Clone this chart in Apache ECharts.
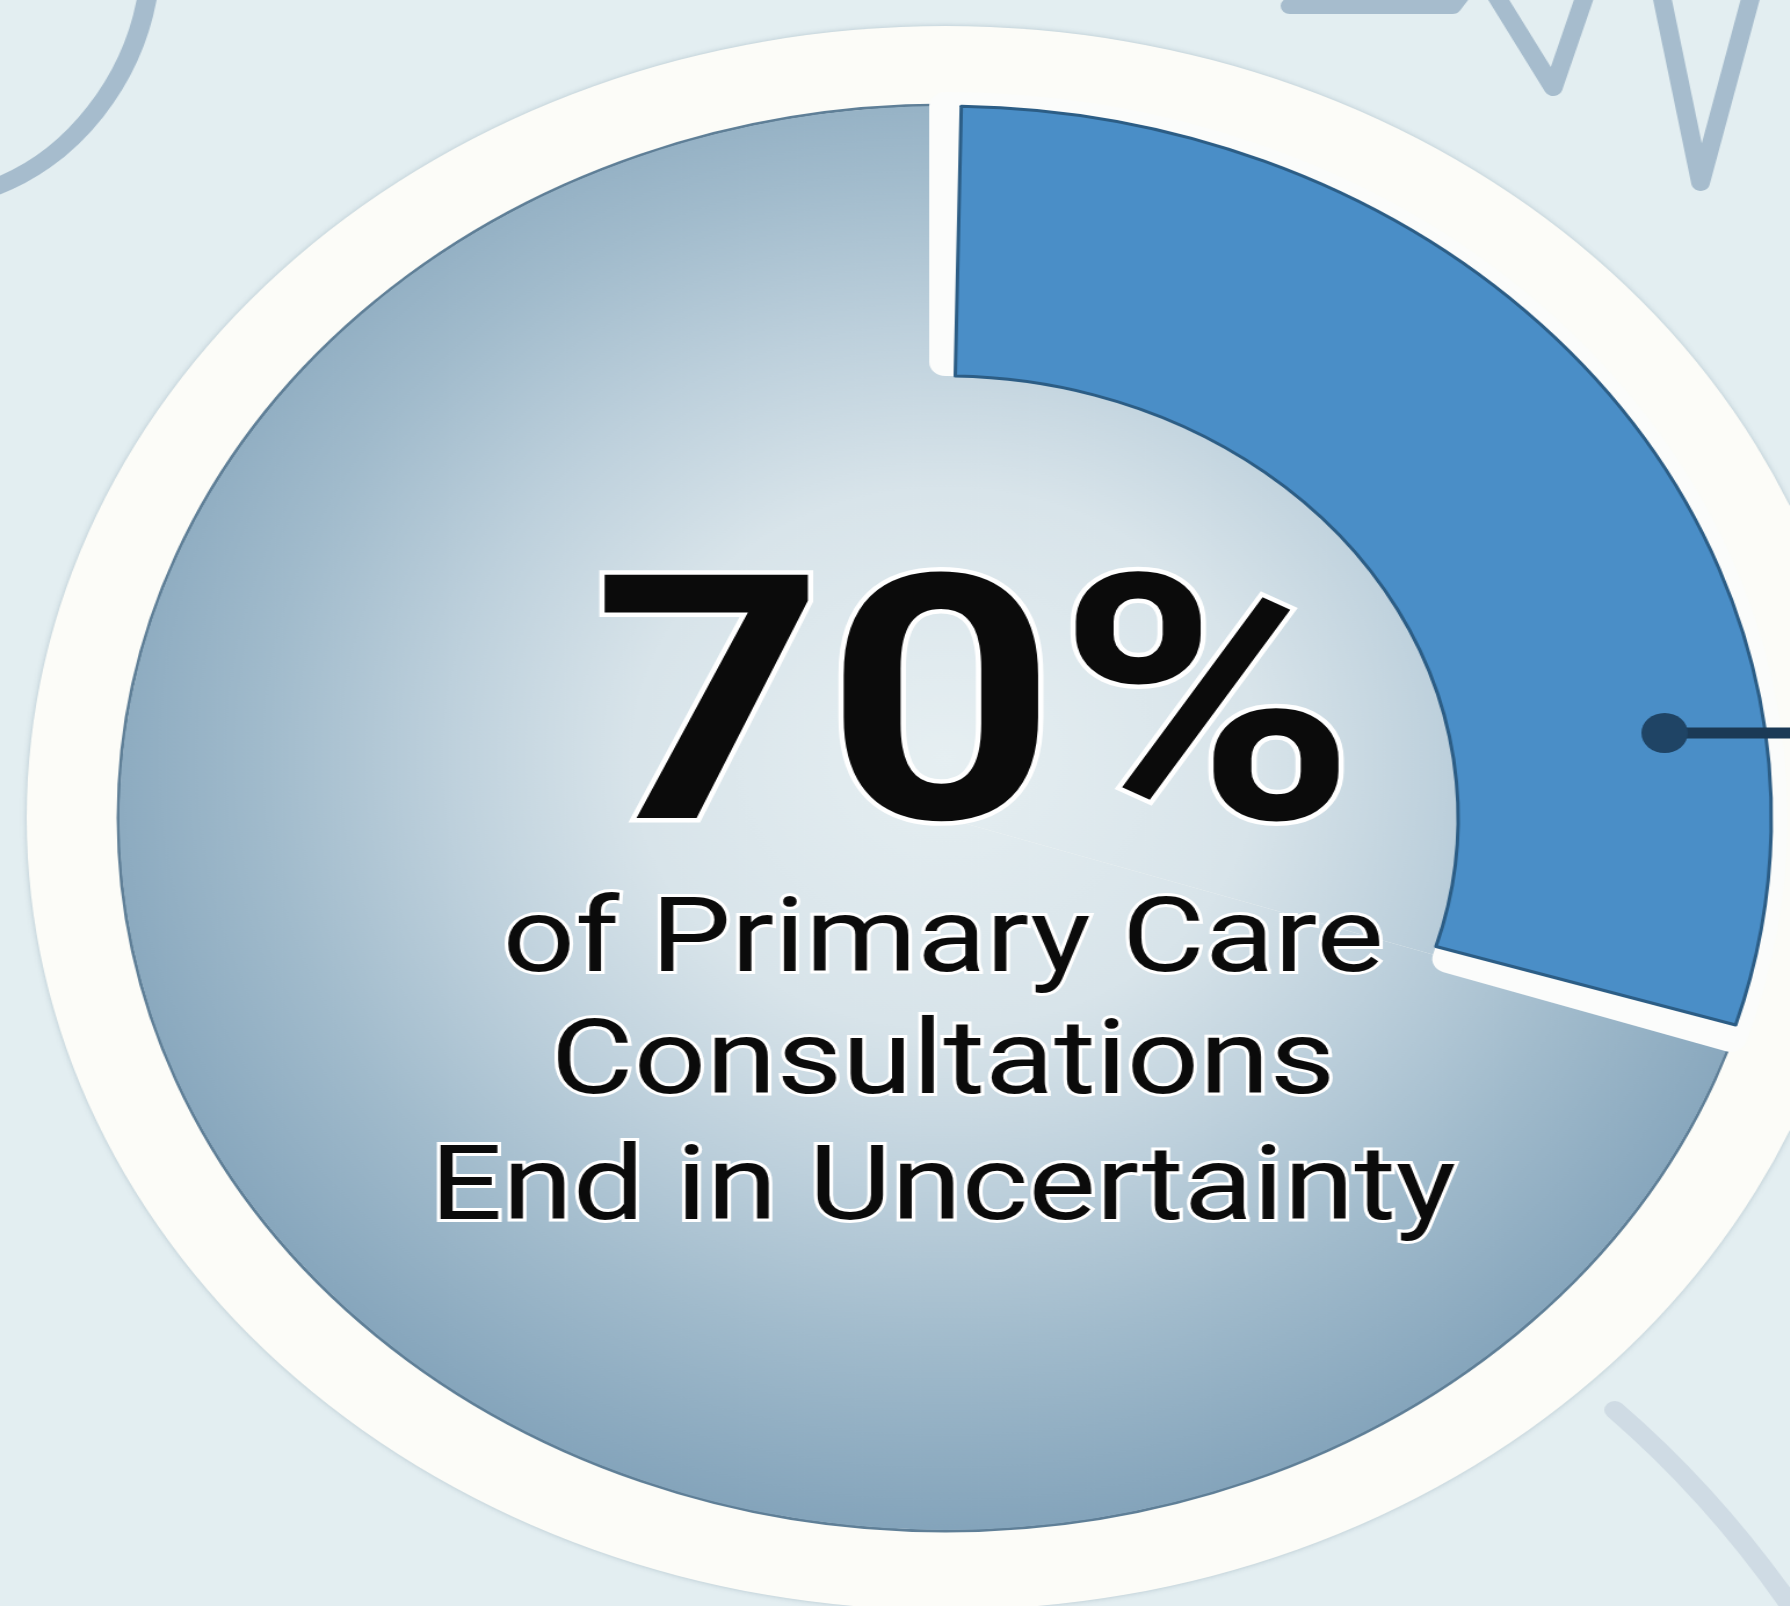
<!DOCTYPE html>
<html>
<head>
<meta charset="utf-8">
<title>70% of Primary Care Consultations End in Uncertainty</title>
<script src="https://cdn.jsdelivr.net/npm/echarts@6/dist/echarts.min.js"></script>
<style>
  html, body { margin: 0; padding: 0; overflow: hidden; background: #e3eef1; }
  /* the reference disc is drawn ~16% wider than tall, so the whole chart is stretched on x */
  #chart { width: 1543px; height: 1606px; transform: scaleX(1.16); transform-origin: 0 0; }
</style>
</head>
<body>
<div id="chart"></div>
<script>
// data
const categories = ["Resolved with certainty", "End in uncertainty"];
const values = [30, 70];
const captionLines = ["of Primary Care", "Consultations", "End in Uncertainty"];

// layout (unstretched px)
const cx = 815, cy = 818;
const outerR = 712;
const innerR = 442;
const ringR = 792;
const gap = 28;
const captionBaselines = [970, 1092, 1218];

const chart = echarts.init(document.getElementById("chart"));

const discFill = new echarts.graphic.RadialGradient(cx, cy - 60, outerR + 60, [
  { offset: 0, color: "#e6eff2" },
  { offset: 0.35, color: "#d8e4ea" },
  { offset: 0.56, color: "#bdd0dc" },
  { offset: 0.76, color: "#a1bbcc" },
  { offset: 1, color: "#84a4bb" }
], true);

const hidden = { color: "rgba(0,0,0,0)", borderWidth: 0 };

function pieBase(name, radius) {
  return {
    name: name,
    type: "pie",
    center: [cx, cy],
    radius: radius,
    startAngle: 90,
    clockwise: true,
    silent: true,
    label: { show: false },
    labelLine: { show: false },
    emphasis: { disabled: true }
  };
}

const series = [
  // full disc, grey share
  Object.assign(pieBase("disc", [0, outerR]), {
    data: categories.map((c, i) => ({
      name: c,
      value: values[i],
      itemStyle: { color: discFill, borderWidth: 0 }
    }))
  }),
  // white gap round the highlighted share
  Object.assign(pieBase("gap", [innerR + gap / 2, outerR]), {
    data: categories.map((c, i) => ({
      name: c,
      value: values[i],
      itemStyle: i === 0 ? { color: "#fbfcfb", borderColor: "#fbfcfb", borderWidth: gap } : hidden
    }))
  }),
  // highlighted 30% ring sector, padded so the white gap shows on both sides
  Object.assign(pieBase("share", [innerR, outerR]), {
    padAngle: 2.2,
    data: categories.map((c, i) => ({
      name: c,
      value: values[i],
      itemStyle: i === 0 ? { color: "#4a8ec7", borderColor: "#2c5d85", borderWidth: 3 } : hidden
    }))
  })
];

const lineColor = "#a6bccd";
const graphics = [
  // white frame ring behind the disc
  { type: "circle", z: 0, shape: { cx: cx, cy: cy, r: ringR },
    style: { fill: "#fcfcf8", shadowBlur: 5, shadowColor: "rgba(90,120,140,0.35)" } },
  { type: "circle", z: 1, shape: { cx: cx, cy: cy, r: outerR + 1 },
    style: { fill: null, stroke: "#5f7f97", lineWidth: 3 } },
  // background doodles
  { type: "bezierCurve", z: 1,
    shape: { x1: 129, y1: -20, cpx1: 119.5, cpy1: 76, cpx2: 62, cpy2: 165, x2: -17, y2: 192 },
    style: { stroke: lineColor, lineWidth: 17, fill: null, lineCap: "round" } },
  { type: "polyline", z: 1, shape: { points: [[1112, 6], [1252, 6], [1276, -30], [1339, 88], [1377, -40], [1426, -40], [1466, 183], [1518, -40]] },
    style: { stroke: lineColor, lineWidth: 16, fill: null, lineCap: "round", lineJoin: "round" } },
  { type: "bezierCurve", z: 1,
    shape: { x1: 1392, y1: 1410, cpx1: 1440, cpy1: 1458, cpx2: 1500, cpy2: 1530, x2: 1555, y2: 1625 },
    style: { stroke: "#cfdbe4", lineWidth: 18, fill: null, lineCap: "round" } },
  // pointer from the highlighted share
  { type: "line", z: 10, shape: { x1: 1435, y1: 733, x2: 1560, y2: 733 },
    style: { stroke: "#1b3a56", lineWidth: 11 } },
  { type: "circle", z: 11, shape: { cx: 1435, cy: 733, r: 20 },
    style: { fill: "#1f4465" } },
  // headline + caption
  { type: "text", z: 20, x: 840, y: 818 - 0.25 * 342, scaleX: 1.02,
    style: { text: values[1] + "%", fontFamily: "Roboto", fontWeight: "bold", fontSize: 342,
      fill: "#0b0b0b", stroke: "#ffffff", lineWidth: 9, align: "center", verticalAlign: "middle" } }
].concat(captionLines.map((t, i) => ({
  type: "text", z: 20, x: 813, y: captionBaselines[i] - 0.24 * 104, scaleX: 1.055,
  style: { text: t, fontFamily: "Roboto", fontSize: 104,
    fill: "#0b0b0b", stroke: "#ffffff", lineWidth: 6, align: "center", verticalAlign: "middle" }
})));

chart.setOption({
  backgroundColor: "#e3eef1",
  animation: false,
  graphic: graphics,
  series: series
});
</script>
</body>
</html>
